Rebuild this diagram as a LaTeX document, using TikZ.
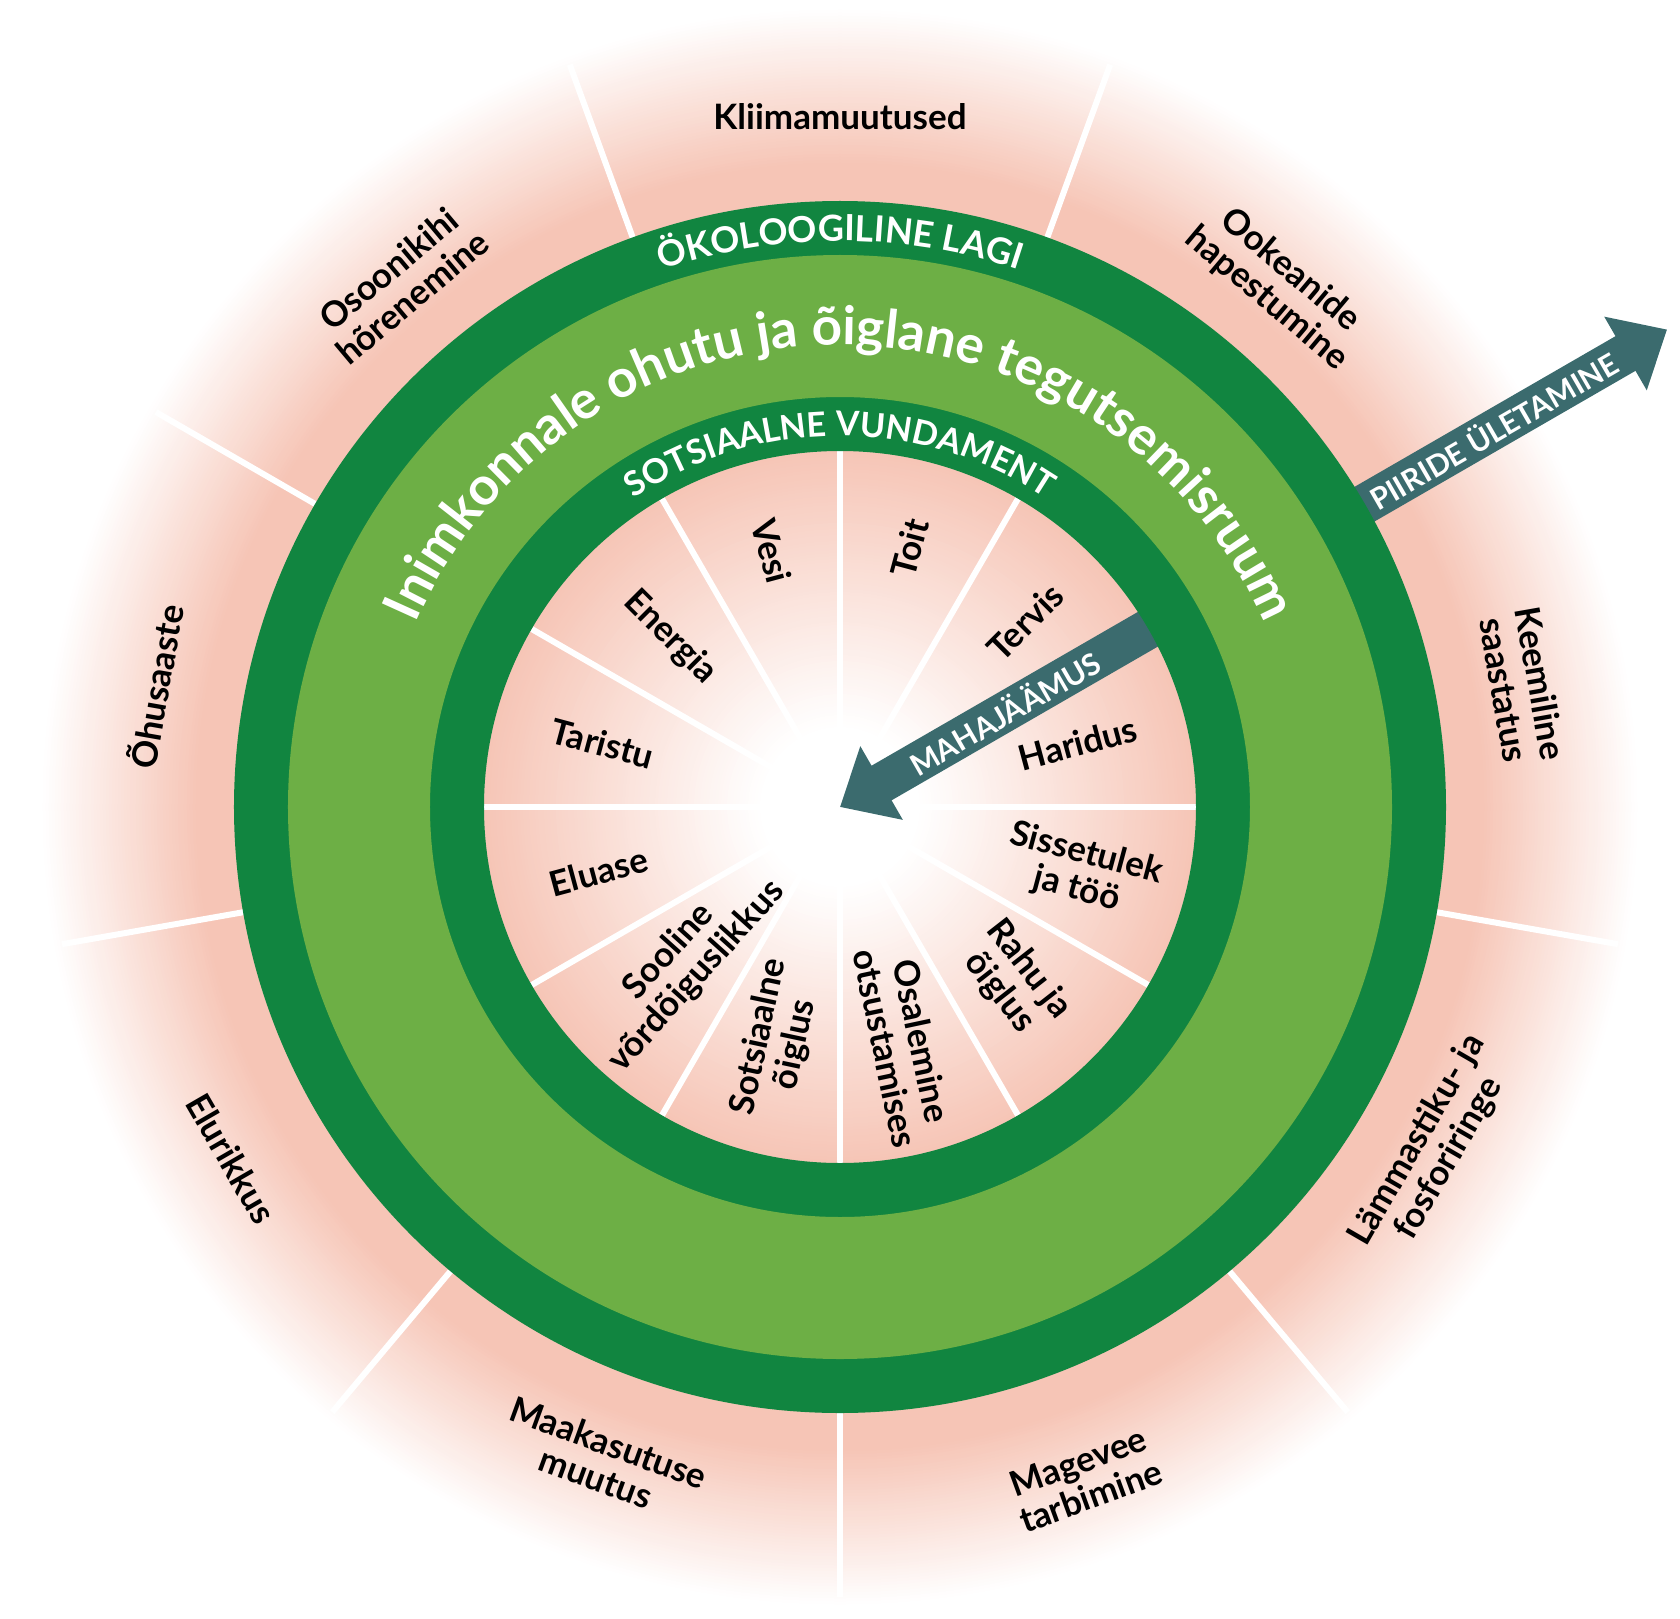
\documentclass[tikz,border=0pt]{standalone}
\usepackage{fontspec}
\setmainfont{Lato}
\usepackage{tikz}
\usetikzlibrary{arrows.meta,decorations.text}
\definecolor{ringdark}{RGB}{17,133,64}
\definecolor{ringlight}{RGB}{109,175,69}
\definecolor{petal}{RGB}{246,197,182}
\definecolor{shortfall}{RGB}{59,107,110}
\newcommand{\RFoundIn}{356}
\newcommand{\RFoundOut}{410}
\newcommand{\RCeilIn}{552}
\newcommand{\RCeilOut}{606}
\newcommand{\LabelFont}{\bfseries\fontsize{35}{37}\selectfont}
\newcommand{\NeedFont}{\bfseries\fontsize{35}{37}\selectfont}
\newcommand{\RingCapsFont}{\bfseries\fontsize{36}{38}\selectfont}
\newcommand{\FoundCapsFont}{\bfseries\fontsize{34}{36}\selectfont}
\newcommand{\SpaceFont}{\bfseries\fontsize{53}{56}\selectfont}
\newcommand{\ArrowFont}{\bfseries\fontsize{30}{32}\selectfont}
\tikzset{
  spoke/.style={white, line width=6},
  ceillabel/.style={align=center, font=\LabelFont, text=black, inner sep=0pt},
  needlabel/.style={align=center, font=\NeedFont, text=black, inner sep=0pt},
  breach/.style={shortfall, line width=40, -{Triangle[length=48pt, width=82pt]}},
  arrowtext/.style={text=white, font=\ArrowFont, inner sep=0pt},
  ringtext/.style 2 args={decorate, decoration={text along path, text align=center,
      text={|\color{white}#1|#2}}}
}

\begin{document}
\begin{tikzpicture}[x=1pt, y=1pt]
  \useasboundingbox (-840,-811) rectangle (840,807);
  \coordinate (hub) at (0,0);
  % pink field, fading out beyond the ceiling
  \foreach \r in {800,797,...,606}{
    \pgfmathtruncatemacro{\p}{min(100,(800-\r)/1.55)}
    \fill[petal!\p!white] (hub) circle[radius=\r];
  }
  % pink field inside the foundation, white at the hub
  \foreach \r in {356,353,...,80}{
    \pgfmathtruncatemacro{\p}{(\r-80)/2.76}
    \fill[petal!\p!white] (hub) circle[radius=\r];
  }
  % spokes between the needs and between the boundaries
  \foreach \a in {0,30,...,330}
    \draw[spoke] (\a:60) -- (\a:\RFoundIn);
  \foreach \a in {30,70,...,350}
    \draw[spoke] (\a:\RCeilOut) -- (\a:790);
  % overshoot and shortfall
  \coordinate (overTail) at (30:590);
  \coordinate (overTip) at (30:955);
  \coordinate (shortTail) at (30:380);
  \draw[breach] (overTail) -- (overTip)
    node[arrowtext, pos=0.45, sloped] (overLabel) {PIIRIDE ÜLETAMINE};
  \draw[breach] (shortTail) -- (hub)
    node[arrowtext, pos=0.5, sloped] (shortLabel) {MAHAJÄÄMUS};
  % the two dark rings and the green band
  \fill[ringdark, even odd rule] (hub) circle[radius=\RCeilOut] circle[radius=\RFoundIn];
  \fill[ringlight, even odd rule] (hub) circle[radius=\RCeilIn] circle[radius=\RFoundOut];
  % titles along the rings
  \path[ringtext={\RingCapsFont}{ÖKOLOOGILINE LAGI}]
    (180:566) arc[start angle=180, end angle=0, radius=566];
  \path[ringtext={\SpaceFont}{Inimkonnale ohutu ja õiglane tegutsemisruum}]
    (180:462) arc[start angle=180, end angle=0, radius=462];
  \path[ringtext={\FoundCapsFont}{SOTSIAALNE VUNDAMENT}]
    (180:371) arc[start angle=180, end angle=0, radius=371];
  % planetary boundaries
  \foreach \a/\r/\rot/\txt [count=\i] in {
      90/690/0/Kliimamuutused,
      50/682/-40/Ookeanide\\hapestumine,
      10/693/-80/Keemiline\\saastatus,
      -30/685/60/Lämmastiku- ja\\fosforiringe,
      -70/715/20/Magevee\\tarbimine,
      -110/695/-20/Maakasutuse\\muutus,
      -150/703/-60/Elurikkus,
      170/696/80/Õhusaaste,
      130/684/40/Osoonikihi\\hõrenemine}
    \node[ceillabel, rotate=\rot] (ceil\i) at (\a:\r) {\txt};
  % social needs
  \foreach \a/\r/\rot/\txt [count=\i] in {
      105/265/-75/Vesi,
      75/268/75/Toit,
      45/262/45/Tervis,
      15/246/15/Haridus,
      -15/250/-15/Sissetulek\\ja töö,
      -45/246/-52/Rahu ja\\õiglus,
      -75/246/-78/Osalemine\\otsustamises,
      -105/242/78/Sotsiaalne\\õiglus,
      -135/222/48/Sooline\\võrdõiguslikkus,
      -165/250/15/Eluase,
      165/246/-15/Taristu,
      135/240/-45/Energia}
    \node[needlabel, rotate=\rot] (need\i) at (\a:\r) {\txt};
\end{tikzpicture}
\end{document}
